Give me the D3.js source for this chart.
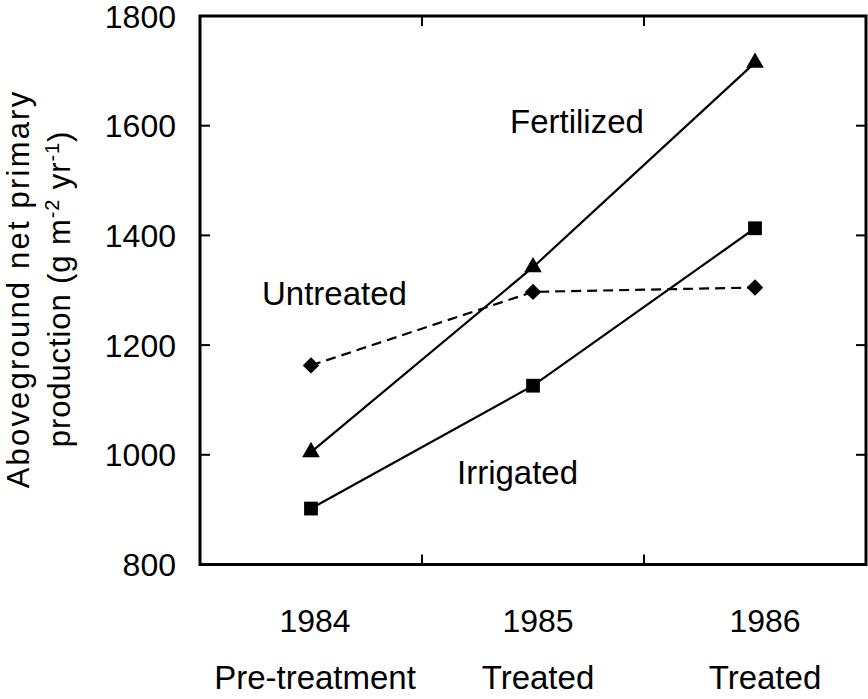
<!DOCTYPE html>
<html>
<head>
<meta charset="utf-8">
<script src="https://cdn.jsdelivr.net/npm/d3@7"></script>
<style>
  body { margin: 0; background: #fff; }
  svg text { font-family: "Liberation Sans", Arial, Helvetica, sans-serif; fill: #000; }
</style>
</head>
<body>
<svg id="chart" width="868" height="699"></svg>
<script>
// ——— Data ———
const years = ['1984', '1985', '1986'];
const phases = ['Pre-treatment', 'Treated', 'Treated'];
const fertilized = [1005, 1342, 1715];
const irrigated = [902, 1126, 1413];
const untreated = [1163, 1297, 1305];
const yTicks = [800, 1000, 1200, 1400, 1600, 1800];

const svg = d3.select('#chart');
const pLeft = 200, pRight = 866, pTop = 16, pBottom = 564.5;

const x = d3.scaleBand().domain(years).range([pLeft, pRight]);
const y = d3.scaleLinear().domain([800, 1800]).range([pBottom, pTop]);
const cx = d => x(d) + x.bandwidth() / 2;

// ——— Frame & ticks ———
const g = svg.append('g');
g.append('rect')
    .attr('x', pLeft).attr('y', pTop)
    .attr('width', pRight - pLeft).attr('height', pBottom - pTop)
    .attr('fill', 'none').attr('stroke', '#000').attr('stroke-width', 3);

// y ticks, inward on both sides
yTicks.slice(1, -1).forEach(v => {
    g.append('line').attr('x1', pLeft).attr('x2', pLeft + 10)
        .attr('y1', y(v)).attr('y2', y(v)).attr('stroke', '#000').attr('stroke-width', 2);
    g.append('line').attr('x1', pRight - 10).attr('x2', pRight)
        .attr('y1', y(v)).attr('y2', y(v)).attr('stroke', '#000').attr('stroke-width', 2);
});
g.selectAll('.ylab')
    .data(yTicks)
    .join('text')
    .attr('x', 176)
    .attr('y', d => y(d) + 11.5)
    .attr('text-anchor', 'end')
    .attr('font-size', 32)
    .text(d => d);

// x band boundaries, inward top & bottom
years.slice(1).forEach(yr => {
    const bx = x(yr);
    g.append('line').attr('x1', bx).attr('x2', bx)
        .attr('y1', pBottom - 10).attr('y2', pBottom).attr('stroke', '#000').attr('stroke-width', 2);
    g.append('line').attr('x1', bx).attr('x2', bx)
        .attr('y1', pTop).attr('y2', pTop + 10).attr('stroke', '#000').attr('stroke-width', 2);
});

const labShift = [4, 5, 10];
g.selectAll('.xlab')
    .data(years)
    .join('text')
    .attr('x', (d, i) => cx(d) + labShift[i])
    .attr('y', 632)
    .attr('text-anchor', 'middle')
    .attr('font-size', 32)
    .text(d => d);

g.selectAll('.phase')
    .data(phases)
    .join('text')
    .attr('x', (d, i) => cx(years[i]) + labShift[i])
    .attr('y', 689)
    .attr('text-anchor', 'middle')
    .attr('font-size', 33)
    .text(d => d);

// ——— Y axis title ———
const yt = svg.append('g').attr('transform', 'translate(29,289) rotate(-90)');
yt.append('text')
    .attr('text-anchor', 'middle')
    .attr('font-size', 31)
    .attr('letter-spacing', 2.2)
    .text('Aboveground net primary');
const t2 = yt.append('text')
    .attr('y', 41)
    .attr('text-anchor', 'middle')
    .attr('font-size', 31)
    .attr('letter-spacing', 0.9);
t2.append('tspan').text('production (g m');
t2.append('tspan').attr('dy', -11).attr('font-size', 20).text('-2');
t2.append('tspan').attr('dy', 11).text(' yr');
t2.append('tspan').attr('dy', -11).attr('font-size', 20).text('-1');
t2.append('tspan').attr('dy', 11).text(')');

// ——— Series ———
const line = d3.line().x((d, i) => cx(years[i])).y(d => y(d));

function series(vals, dashed, shape, size, rot) {
    svg.append('path')
        .datum(vals)
        .attr('d', line)
        .attr('fill', 'none')
        .attr('stroke', '#000')
        .attr('stroke-width', 2.2)
        .attr('stroke-dasharray', dashed ? '10,6' : null);
    svg.append('g')
        .selectAll('path')
        .data(vals)
        .join('path')
        .attr('transform', (d, i) => `translate(${cx(years[i])},${y(d)}) rotate(${rot})`)
        .attr('d', d3.symbol().type(shape).size(size))
        .attr('fill', '#000');
}

series(untreated, true, d3.symbolSquare, 135, 45);
series(irrigated, false, d3.symbolSquare, 190, 0);
series(fertilized, false, d3.symbolTriangle, 135, 0);

// ——— Series labels ———
const labels = [
    { text: 'Fertilized', x: 510, y: 133 },
    { text: 'Untreated', x: 262, y: 305 },
    { text: 'Irrigated', x: 457, y: 484 }
];
svg.selectAll('.slab')
    .data(labels)
    .join('text')
    .attr('x', d => d.x)
    .attr('y', d => d.y)
    .attr('font-size', 33)
    .text(d => d.text);
</script>
</body>
</html>
